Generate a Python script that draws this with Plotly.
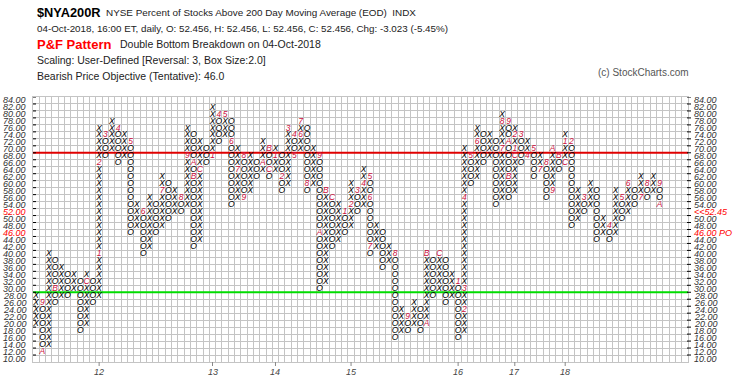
import plotly.graph_objects as go

# ---------------- data ----------------
BOX = 2
col_kind = ["X", "O"] * 50
col_low = [20, 12, 14, 26, 28, 28, 30, 18, 20, 26,
           28, 68, 70, 66, 68, 46, 48, 40, 42, 46,
           48, 50, 52, 52, 54, 42, 44, 66, 68, 72,
           74, 54, 56, 56, 58, 62, 64, 62, 64, 58,
           60, 68, 70, 58, 60, 30, 32, 42, 44, 46,
           48, 52, 54, 40, 42, 36, 38, 16, 18, 18,
           20, 18, 20, 28, 30, 26, 28, 16, 18, 60,
           62, 66, 68, 54, 56, 56, 58, 66, 68, 62,
           64, 56, 58, 64, 66, 48, 50, 52, 54, 44,
           46, 44, 46, 50, 52, 54, 56, 56, 58, 54]
col_high = [28, 26, 40, 38, 36, 34, 34, 32, 34, 32,
            76, 74, 78, 76, 74, 72, 54, 52, 56, 54,
            62, 60, 58, 56, 76, 74, 72, 70, 82, 80,
            80, 78, 70, 68, 68, 66, 72, 70, 70, 68,
            76, 74, 78, 76, 70, 68, 58, 56, 54, 52,
            60, 58, 64, 62, 48, 46, 42, 40, 24, 22,
            26, 24, 40, 38, 40, 38, 34, 32, 70, 68,
            76, 74, 74, 72, 80, 78, 76, 74, 72, 70,
            68, 66, 70, 68, 74, 72, 58, 56, 60, 58,
            50, 48, 58, 56, 60, 58, 62, 60, 62, 60]

# month markers (column, box value, label)
mark_col = [1, 1, 3, 8, 10, 10, 11, 13, 15, 17, 20, 23, 24, 25, 25, 26,
            28, 29, 30, 31, 32, 33, 33, 36, 37, 37,
            38, 39, 40, 41, 41, 42, 42, 43, 45, 45, 46, 47,
            49, 50, 51, 52, 53, 53, 53, 57, 59, 62, 62, 64,
            67, 68, 68, 68, 69, 70, 74, 74, 75, 75, 75, 76,
            76, 76, 77, 78, 79, 80, 81, 82, 82, 83, 84,
            84, 85, 87, 91, 93, 94, 96, 97, 99, 99]
mark_val = [26, 12, 30, 32, 40, 66, 74, 76, 72, 52, 58, 56, 68, 66, 62, 64,
            68, 80, 80, 72, 64, 68, 56, 66, 70, 64,
            68, 62, 76, 74, 68, 74, 78, 60, 68, 46, 58, 56,
            52, 54, 58, 60, 62, 56, 42, 40, 22, 20, 40, 40,
            32, 24, 30, 56, 68, 72, 70, 78, 78, 72, 62, 68,
            70, 74, 74, 68, 70, 64, 66, 58, 70, 68, 66,
            72, 72, 56, 48, 56, 60, 56, 60, 60, 54]
mark_txt = ["9", "A", "B", "C", "1", "2", "3", "4", "5", "6", "7", "8", "9", "A", "B", "C",
            "1", "4", "5", "6", "7", "8", "9", "A", "B", "C",
            "1", "2", "3", "4", "5", "6", "7", "8", "9", "A", "B", "C",
            "1", "2", "3", "4", "5", "6", "7", "8", "9", "A", "B", "C",
            "1", "2", "3", "4", "5", "6", "7", "8", "9", "A", "B", "C",
            "1", "2", "3", "4", "5", "7", "8", "9", "A", "B", "C",
            "1", "2", "3", "4", "5", "6", "7", "8", "9", "A"]

year_cols = [10, 28, 38, 50, 67, 76, 84]
year_labels = ["12", "13", "14", "15", "16", "17", "18"]

y_levels = list(range(84, 8, -2))  # 84 ... 10
red_levels_left = [52, 46]
resistance = 70
support = 30
last_price = 52.45
price_objective = 46.0
N_COLS = 104

# ---------------- build marks ----------------
marks = {(c, v): t for c, v, t in zip(mark_col, mark_val, mark_txt)}
xs_x, ys_x, xs_o, ys_o = [], [], [], []
for c, (k, lo, hi) in enumerate(zip(col_kind, col_low, col_high)):
    for v in range(lo, hi + 1, BOX):
        if (c, v) in marks:
            continue
        if k == "X":
            xs_x.append(c + 0.5); ys_x.append(v + BOX / 2)
        else:
            xs_o.append(c + 0.5); ys_o.append(v + BOX / 2)

fig = go.Figure()

# support / resistance lines
fig.add_trace(go.Scatter(x=[0, N_COLS], y=[resistance, resistance], mode="lines",
                         line=dict(color="#e00000", width=2), hoverinfo="skip"))
fig.add_trace(go.Scatter(x=[0, N_COLS], y=[support, support], mode="lines",
                         line=dict(color="#00dd00", width=2), hoverinfo="skip"))

glyph_font = dict(family="Liberation Sans", size=8.5, color="#000000", style="italic")
fig.add_trace(go.Scatter(x=xs_x, y=ys_x, mode="text", text=["X"] * len(xs_x),
                         textfont=glyph_font, textposition="middle center", hoverinfo="skip"))
fig.add_trace(go.Scatter(x=xs_o, y=ys_o, mode="text", text=["O"] * len(xs_o),
                         textfont=glyph_font, textposition="middle center", hoverinfo="skip"))
fig.add_trace(go.Scatter(x=[c + 0.5 for c in mark_col], y=[v + BOX / 2 for v in mark_val],
                         mode="text", text=mark_txt,
                         textfont=dict(family="Liberation Sans", size=8.5, color="#cc1040", style="italic"),
                         textposition="middle center", hoverinfo="skip"))

# ---------------- axes / layout ----------------
L, R, T, B = 33, 57, 97, 21
W, H = 745, 383
pw = W - L - R
ph = H - T - B

fig.update_layout(
    width=W, height=H, margin=dict(l=L, r=R, t=T, b=B),
    paper_bgcolor="white", plot_bgcolor="white", showlegend=False,
    xaxis=dict(range=[0, N_COLS], showgrid=True, gridcolor="#c4c4c4", gridwidth=1,
               tick0=0, dtick=1, showticklabels=False, zeroline=False,
               showline=True, linecolor="#c4c4c4", mirror=True, ticks=""),
    yaxis=dict(range=[10, 86], showgrid=True, gridcolor="#c4c4c4", gridwidth=1,
               tick0=10, dtick=2, showticklabels=False, zeroline=False,
               showline=True, linecolor="#c4c4c4", mirror=True, ticks=""),
)

ann = []
shapes = []
lab_font = dict(family="Liberation Sans", size=9, color="#333333", style="italic")
for v in y_levels:
    col = "#ff0000" if v in red_levels_left else "#333333"
    ann.append(dict(x=(1 - L) / pw, y=v + 1, xref="paper", yref="y", text=f"{v:.2f}",
                    showarrow=False, xanchor="left", yanchor="middle",
                    font=dict(lab_font, color=col)))
    if v == 52:
        txt, rc = f"<<{last_price:.2f}", "#ff0000"
    elif v == 46:
        txt, rc = f"{price_objective:.2f} PO", "#ff0000"
    else:
        txt, rc = f"{v:.2f}", "#333333"
    ann.append(dict(x=(692 - L) / pw, y=v + 1, xref="paper", yref="y", text=txt,
                    showarrow=False, xanchor="left", yanchor="middle",
                    font=dict(lab_font, color=rc)))
    shapes.append(dict(type="line", xref="paper", yref="y", x0=0, x1=3 / pw,
                       y0=v + 2, y1=v + 2, line=dict(color="#000000", width=1)))
    shapes.append(dict(type="line", xref="paper", yref="y", x0=1 - 1 / pw, x1=1 + 3 / pw,
                       y0=v + 2, y1=v + 2, line=dict(color="#000000", width=1)))

for c, lab in zip(year_cols, year_labels):
    shapes.append(dict(type="line", xref="x", yref="paper", x0=c + 0.5, x1=c + 0.5,
                       y0=0, y1=-4 / ph, line=dict(color="#888888", width=1)))
    ann.append(dict(x=c + 0.5, y=-9.5 / ph, xref="x", yref="paper", text=lab,
                    showarrow=False, xanchor="center", yanchor="middle",
                    font=dict(family="Liberation Sans", size=9, color="#444444", style="italic")))

def px(xp):
    return (xp - L) / pw
def py(yp):
    return 1 + (T - yp) / ph

hdr = [
    (35, 12.5, "<b>$NYA200R</b>", 12.8, "#000000"),
    (104, 12.5, "NYSE Percent of Stocks Above 200 Day Moving Average (EOD)  INDX", 9.9, "#222222"),
    (35, 28.5, "04-Oct-2018, 16:00 ET, daily, O: 52.456, H: 52.456, L: 52.456, C: 52.456, Chg: -3.023 (-5.45%)", 9.8, "#222222"),
    (35, 44, "<b>P&F Pattern</b>", 13, "#ff0000"),
    (118, 44, "Double Bottom Breakdown on 04-Oct-2018", 10.5, "#222222"),
    (35, 60.5, "Scaling: User-Defined [Reversal: 3, Box Size:2.0]", 10.5, "#222222"),
    (35, 76.5, "Bearish Price Objective (Tentative): 46.0", 10.5, "#222222"),
    (596, 72, "(c) StockCharts.com", 10, "#555555"),
]
for xp, yp, t, s, c in hdr:
    ann.append(dict(x=px(xp), y=py(yp), xref="paper", yref="paper", text=t, showarrow=False,
                    xanchor="left", yanchor="middle",
                    font=dict(family="Liberation Sans", size=s, color=c)))

fig.update_layout(annotations=ann, shapes=shapes)
fig.write_html("out.html", config={"displayModeBar": False},
               post_script="document.body.style.margin='0px';document.body.style.overflow='hidden';")
